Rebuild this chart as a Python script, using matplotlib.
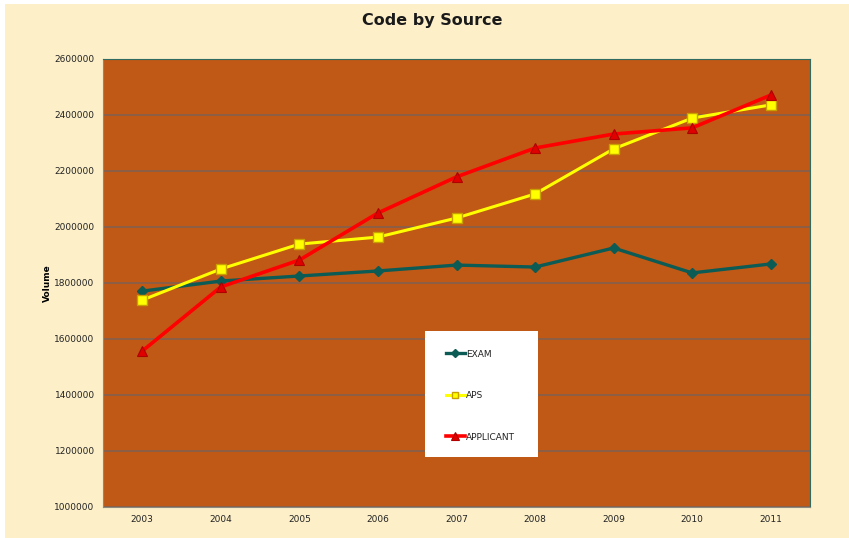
import matplotlib
matplotlib.use("Agg")
import matplotlib.pyplot as plt
from matplotlib.patches import Rectangle

years = ["2003", "2004", "2005", "2006", "2007", "2008", "2009", "2010", "2011"]
exam = [1771000, 1807000, 1825000, 1843000, 1864000, 1857000, 1925000, 1836000, 1868000]
aps = [1739000, 1850000, 1939000, 1964000, 2032000, 2118000, 2279000, 2389000, 2436000]
applicant = [1557000, 1786000, 1882000, 2050000, 2179000, 2282000, 2332000, 2354000, 2471000]
yticks = [1000000, 1200000, 1400000, 1600000, 1800000, 2000000, 2200000, 2400000, 2600000]

W, H = 849, 538
fig = plt.figure(figsize=(W / 100, H / 100), dpi=100, facecolor="white")
fig.patches.append(Rectangle((5 / W, 0), 1 - 5 / W, 1 - 4 / H, transform=fig.transFigure,
                             facecolor="#FDF0C9", edgecolor="none", zorder=-10))

ax = fig.add_axes([103 / W, 1 - 507 / H, 707 / W, 448 / H])
ax.set_facecolor("#BF5915")
x = list(range(len(years)))

ax.plot(x, exam, color="#0C5B55", lw=2.4, marker="D", ms=5.5, mfc="#0C5B55", mec="#0C5B55",
        label="EXAM", zorder=3)
ax.plot(x, aps, color="#FFFF00", lw=2.2, marker="s", ms=6.5, mfc="#FFFF00", mec="#C8A000",
        mew=1.0, label="APS", zorder=4)
ax.plot(x, applicant, color="#FF0000", lw=2.6, marker="^", ms=7, mfc="#E00000", mec="#B00000",
        mew=0.8, label="APPLICANT", zorder=5)

ax.set_xlim(-0.5, len(years) - 0.5)
ax.set_ylim(1000000, 2600000)
ax.set_xticks(x)
ax.set_xticklabels(years)
ax.set_yticks(yticks)
ax.set_yticklabels([str(v) for v in yticks])
ax.tick_params(axis="both", labelsize=6.5, colors="#222222", length=0, pad=6)
ax.grid(axis="y", color="#84604E", lw=1.2)
ax.set_axisbelow(True)
for s in ["left", "bottom"]:
    ax.spines[s].set_color("#8A8A80")
    ax.spines[s].set_linewidth(0.8)
for s in ["top", "right"]:
    ax.spines[s].set_color("#2F6B60")
    ax.spines[s].set_linewidth(0.8)

ax.set_ylabel("Volume", fontsize=6.5, fontweight="bold", labelpad=2)
fig.text(432 / W, 1 - 21 / H, "Code by Source", ha="center", va="center",
         fontsize=11.5, fontweight="bold", color="#1A1A1A")

# legend box
box = Rectangle((425 / W, 1 - 457 / H), 113 / W, 126 / H, transform=fig.transFigure,
                facecolor="white", edgecolor="none", zorder=10, clip_on=False)
ax.add_patch(box)
leg = ax.legend(loc="upper left", bbox_to_anchor=(441 / W, 1 - 345 / H),
                bbox_transform=fig.transFigure, frameon=False, fontsize=6.5,
                labelspacing=3.6, handlelength=2.2, handletextpad=0.1, borderpad=0,
                markerscale=0.75)
leg.set_zorder(11)
for t in leg.get_texts():
    t.set_color("#222222")

fig.savefig("out.png", dpi=100, facecolor=fig.get_facecolor())
